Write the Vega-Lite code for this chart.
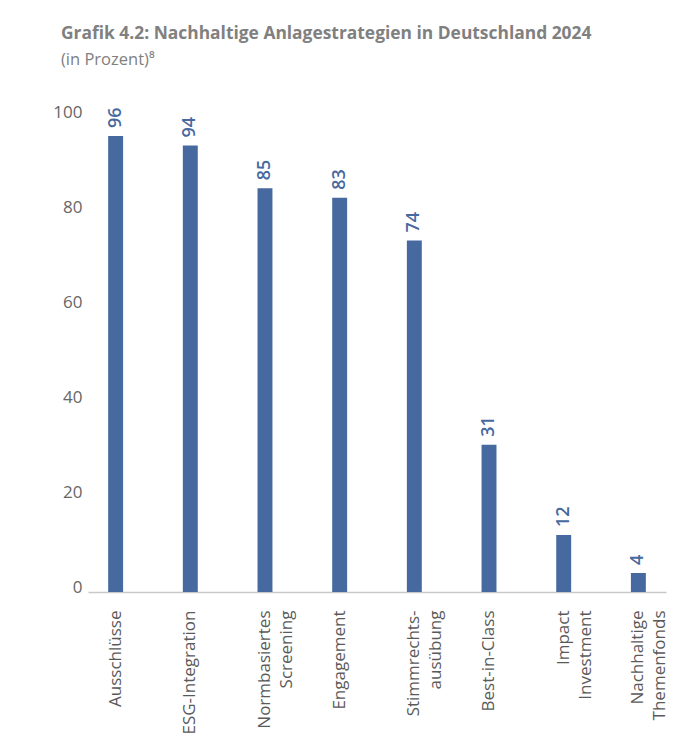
{
  "$schema": "https://vega.github.io/schema/vega-lite/v6.json",
  "autosize": {"type": "none"},
  "width": 578,
  "height": 475,
  "padding": {"left": 88, "top": 117, "right": 17, "bottom": 161},
  "background": "white",
  "title": {
    "text": "Grafik 4.2: Nachhaltige Anlagestrategien in Deutschland 2024",
    "subtitle": "(in Prozent)⁸",
    "anchor": "start",
    "frame": "group",
    "dx": -27,
    "offset": 35,
    "font": "Open Sans",
    "fontSize": 17.4,
    "fontWeight": "bold",
    "color": "#808080",
    "subtitleFont": "Open Sans",
    "subtitleFontSize": 16.5,
    "subtitleFontWeight": "normal",
    "subtitleColor": "#808080",
    "subtitlePadding": 9
  },
  "data": {
    "values": [
      {"strategie": "Ausschlüsse", "wert": 96},
      {"strategie": "ESG-Integration", "wert": 94},
      {"strategie": "Normbasiertes|Screening", "wert": 85},
      {"strategie": "Engagement", "wert": 83},
      {"strategie": "Stimmrechts-|ausübung", "wert": 74},
      {"strategie": "Best-in-Class", "wert": 31},
      {"strategie": "Impact|Investment", "wert": 12},
      {"strategie": "Nachhaltige|Themenfonds", "wert": 4}
    ]
  },
  "encoding": {
    "x": {
      "field": "strategie",
      "type": "nominal",
      "sort": null,
      "scale": {"paddingInner": 0.8, "paddingOuter": 0.27},
      "axis": {
        "title": null,
        "labelAngle": -90,
        "labelAlign": "right",
        "labelBaseline": "middle",
        "labelExpr": "split(datum.label, '|')",
        "labelFont": "Open Sans",
        "labelFontSize": 17,
        "labelColor": "#5a5a5a",
        "labelLineHeight": 22,
        "labelPadding": 18,
        "ticks": false,
        "domainColor": "#c8c8c8",
        "domainWidth": 1.5,
        "labelLimit": 300
      }
    },
    "y": {
      "field": "wert",
      "type": "quantitative",
      "scale": {"domain": [0, 100]},
      "axis": {
        "title": null,
        "values": [0, 20, 40, 60, 80, 100],
        "grid": false,
        "domain": false,
        "ticks": false,
        "labelFont": "Open Sans",
        "labelFontSize": 17,
        "labelColor": "#666666",
        "labelPadding": 6,
        "labelOffset": -5
      }
    }
  },
  "layer": [
    {"mark": {"type": "bar", "color": "#46699f"}},
    {
      "mark": {
        "type": "text",
        "angle": 270,
        "align": "left",
        "baseline": "middle",
        "dx": 8,
        "font": "Open Sans",
        "fontSize": 18,
        "fontWeight": 600,
        "color": "#46699f"
      },
      "encoding": {"text": {"field": "wert", "type": "quantitative"}}
    }
  ],
  "config": {"view": {"stroke": null}}
}
